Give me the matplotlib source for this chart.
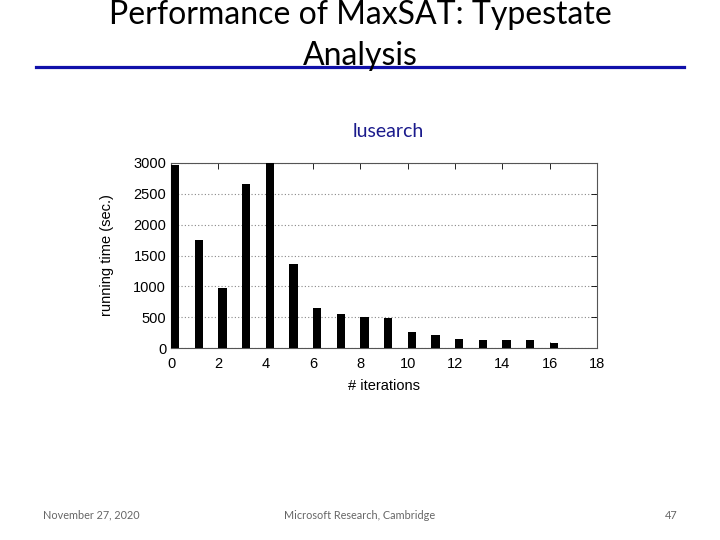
import matplotlib.pyplot as plt
import numpy as np

# ── data ─────────────────────────────────────────────────
iterations = list(range(17))
run_time = [2960, 1750, 970, 2655, 3000, 1365, 650, 550, 505, 490,
            265, 215, 145, 135, 135, 135, 92]
x_ticks = [0, 2, 4, 6, 8, 10, 12, 14, 16, 18]
y_ticks = [0, 500, 1000, 1500, 2000, 2500, 3000]

fig = plt.figure(figsize=(7.2, 5.4), dpi=100)

# ── slide title + underline ──────────────────────────────
fig.text(0.5, 0.956, 'Performance of MaxSAT: Typestate', ha='center', va='baseline',
         fontsize=23, family='Lato', color='black')
fig.text(0.5, 0.880, 'Analysis', ha='center', va='baseline',
         fontsize=23, family='Lato', color='black')
fig.add_artist(plt.Line2D([0.05, 0.95], [0.876, 0.876], color='#1010aa', lw=2.3))

# ── chart ────────────────────────────────────────────────
ax = fig.add_axes([0.2375, 0.355, 0.5915, 0.3435])
ax.bar(iterations, run_time, width=0.35, align='edge', color='black', zorder=3)
ax.set_xlim(0, 18)
ax.set_ylim(0, 3000)
ax.set_xticks(x_ticks)
ax.set_yticks(y_ticks)
ax.yaxis.grid(True, linestyle=(0, (1, 2)), color='#888888', lw=0.8, zorder=0)
ax.tick_params(direction='in', top=True, right=True, length=4, width=0.6,
               labelsize=10.5, colors='black')
ax.tick_params(axis='x', pad=6)
for lbl in ax.get_xticklabels() + ax.get_yticklabels():
    lbl.set_family('Liberation Sans')
for s in ax.spines.values():
    s.set_color('#555555')
    s.set_linewidth(0.8)
ax.set_xlabel('# iterations', fontsize=10.5, family='Liberation Sans', labelpad=6)
ax.set_ylabel('running time (sec.)', fontsize=10.5, family='Liberation Sans', labelpad=14)

fig.text(0.539, 0.757, 'lusearch', ha='center', va='center',
         fontsize=14, family='Lato', color='#1a1a8c')

# ── footer ───────────────────────────────────────────────
fig.text(0.127, 0.046, 'November 27, 2020', ha='center', va='center',
         fontsize=7.8, family='Lato', color='#666666')
fig.text(0.499, 0.046, 'Microsoft Research, Cambridge', ha='center', va='center',
         fontsize=7.8, family='Lato', color='#666666')
fig.text(0.932, 0.046, '47', ha='center', va='center',
         fontsize=7.8, family='Lato', color='#666666')

fig.savefig('out.png', dpi=100)
